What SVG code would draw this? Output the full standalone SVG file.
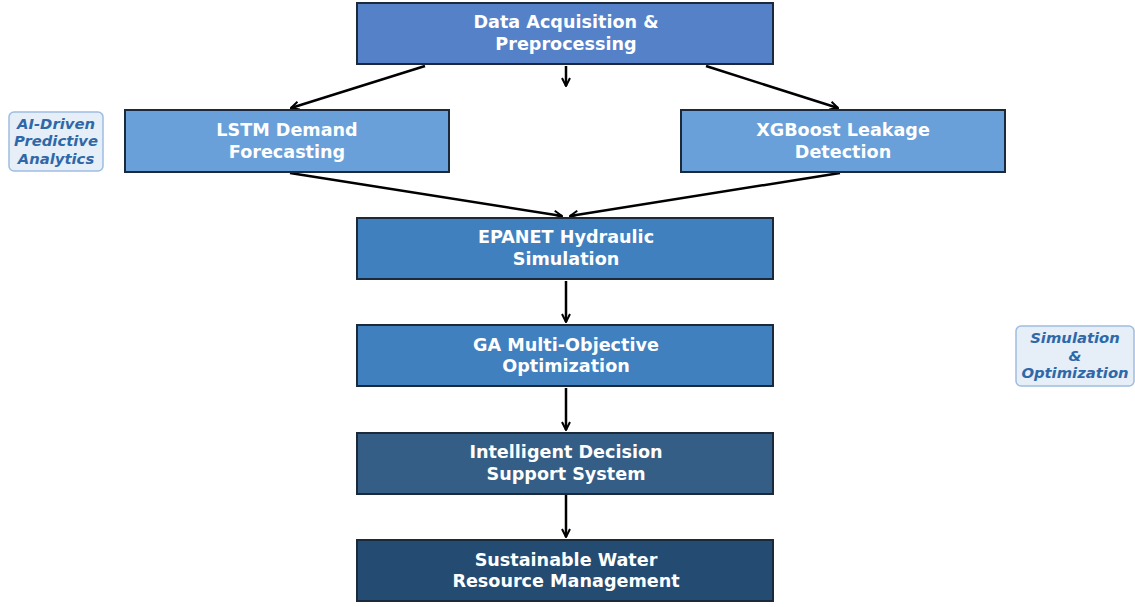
<svg xmlns="http://www.w3.org/2000/svg" width="1135" height="607" viewBox="0 0 1135 607">
<defs>
<marker id="ah" viewBox="0 0 10 10" refX="9" refY="5" markerWidth="10" markerHeight="10" orient="auto" markerUnits="userSpaceOnUse"><path d="M1,1 L9,5 L1,9" fill="none" stroke="#000" stroke-width="2"/></marker>
<style>
.box{stroke:#1a2a3a;stroke-width:2}
.t{font-family:"DejaVu Sans",sans-serif;font-weight:bold;font-size:17.6px;fill:#fff;text-anchor:middle}
.side{fill:#e6eef8;stroke:#9dbde0;stroke-width:1.5}
.st{font-family:"DejaVu Sans",sans-serif;font-weight:bold;font-style:italic;font-size:14.8px;fill:#2f68a8;text-anchor:middle}
.c{stroke:#000;stroke-width:2.5;fill:none;marker-end:url(#ah)}
</style>
</defs>
<rect width="1135" height="607" fill="#fff"/>
<g id="connectors">
<line class="c" x1="425" y1="66" x2="291" y2="108"/>
<line class="c" x1="566" y1="66" x2="566" y2="86"/>
<line class="c" x1="706" y1="66" x2="838" y2="108"/>
<line class="c" x1="290" y1="173" x2="562" y2="216"/>
<line class="c" x1="840" y1="173" x2="570" y2="216"/>
<line class="c" x1="566" y1="281" x2="566" y2="322"/>
<line class="c" x1="566" y1="388" x2="566" y2="430"/>
<line class="c" x1="566" y1="495" x2="566" y2="537"/>
</g>
<g id="n1"><rect class="box" x="357" y="3" width="416" height="61" fill="#5581c9"/><text class="t" x="566" y="28">Data Acquisition &amp;</text><text class="t" x="566" y="50">Preprocessing</text></g>
<g id="n2"><rect class="box" x="125" y="110" width="324" height="62" fill="#69a0d9"/><text class="t" x="287" y="136">LSTM Demand</text><text class="t" x="287" y="158">Forecasting</text></g>
<g id="n3"><rect class="box" x="681" y="110" width="324" height="62" fill="#69a0d9"/><text class="t" x="843" y="136">XGBoost Leakage</text><text class="t" x="843" y="158">Detection</text></g>
<g id="n4"><rect class="box" x="357" y="218" width="416" height="61" fill="#4080bf"/><text class="t" x="566" y="243">EPANET Hydraulic</text><text class="t" x="566" y="265">Simulation</text></g>
<g id="n5"><rect class="box" x="357" y="325" width="416" height="61" fill="#4080bf"/><text class="t" x="566" y="351">GA Multi-Objective</text><text class="t" x="566" y="372">Optimization</text></g>
<g id="n6"><rect class="box" x="357" y="433" width="416" height="61" fill="#345e86"/><text class="t" x="566" y="458">Intelligent Decision</text><text class="t" x="566" y="480">Support System</text></g>
<g id="n7"><rect class="box" x="357" y="540" width="416" height="61" fill="#244c72"/><text class="t" x="566" y="566">Sustainable Water</text><text class="t" x="566" y="587">Resource Management</text></g>
<g id="label1"><rect class="side" x="9" y="112" width="94" height="59" rx="5"/><text class="st" x="56" y="129">AI-Driven</text><text class="st" x="56" y="146">Predictive</text><text class="st" x="56" y="164">Analytics</text></g>
<g id="label2"><rect class="side" x="1016" y="326" width="118" height="60" rx="5"/><text class="st" x="1075" y="343">Simulation</text><text class="st" x="1075" y="361">&amp;</text><text class="st" x="1075" y="378">Optimization</text></g>
</svg>
